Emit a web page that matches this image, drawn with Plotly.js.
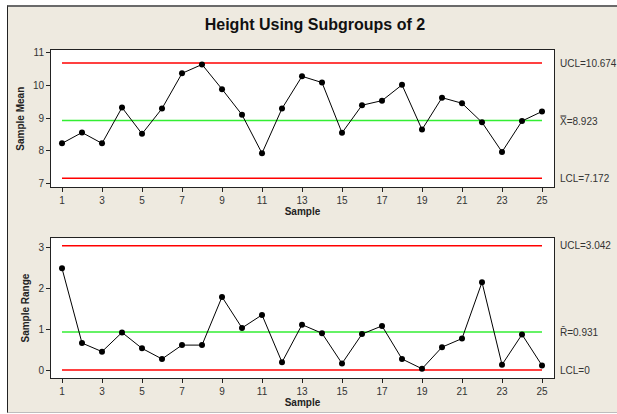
<!DOCTYPE html>
<html><head><meta charset="utf-8">
<script src="https://cdn.plot.ly/plotly-3.0.1.min.js"></script>
<style>
html,body{margin:0;padding:0;background:#fff;width:617px;height:414px;overflow:hidden;}
#frame{position:absolute;left:7px;top:5px;width:609px;height:405px;border-left:1px solid #222;border-top:2px solid #6a6a6a;border-bottom:1px solid #bdbdbd;background:#EEEAE0;}
#chart{width:609px;height:405px;}
</style></head>
<body>
<div id="frame"><div id="chart"></div></div>
<script>
const samples = [1,2,3,4,5,6,7,8,9,10,11,12,13,14,15,16,17,18,19,20,21,22,23,24,25];
const sampleMeans = [8.23,8.56,8.23,9.32,8.52,9.29,10.36,10.63,9.88,9.10,7.93,9.29,10.27,10.08,8.55,9.39,9.53,10.01,8.65,9.62,9.45,8.87,7.97,8.91,9.20];
const sampleRanges = [2.49,0.66,0.45,0.92,0.53,0.27,0.61,0.61,1.79,1.03,1.35,0.19,1.11,0.90,0.16,0.88,1.08,0.27,0.03,0.56,0.77,2.15,0.13,0.87,0.11];
const meanLimits = {ucl:10.674, center:8.923, lcl:7.172};
const rangeLimits = {ucl:3.042, center:0.931, lcl:0};
const xTickVals = [1,3,5,7,9,11,13,15,17,19,21,23,25];

const xEnds = [samples[0], samples[samples.length-1]];
const RED = '#FF0000', GREEN = '#33EE33';
function hline(val, color, xa, ya){
  return {x:xEnds, y:[val,val], mode:'lines', line:{color:color,width:1.5}, xaxis:xa, yaxis:ya, hoverinfo:'skip', showlegend:false};
}
const traces = [
  hline(meanLimits.ucl, RED, 'x','y'),
  hline(meanLimits.center, GREEN, 'x','y'),
  hline(meanLimits.lcl, RED, 'x','y'),
  {x:samples, y:sampleMeans, mode:'lines+markers', line:{color:'#000',width:1}, marker:{color:'#000',size:6}, xaxis:'x', yaxis:'y', showlegend:false},
  hline(rangeLimits.ucl, RED, 'x2','y2'),
  hline(rangeLimits.center, GREEN, 'x2','y2'),
  hline(rangeLimits.lcl, RED, 'x2','y2'),
  {x:samples, y:sampleRanges, mode:'lines+markers', line:{color:'#000',width:1}, marker:{color:'#000',size:6}, xaxis:'x2', yaxis:'y2', showlegend:false}
];
const FONT = 'Liberation Sans, Arial, sans-serif';
const tickFont = {family:FONT, size:10, color:'#333'};
const titleFont = {family:FONT, size:10, color:'#222', weight:'bold'};
function xAxis(anchor){
  return {anchor:anchor, range:[0.45,25.6], tickmode:'array', tickvals:xTickVals, ticks:'outside', ticklen:4, tickcolor:'#222',
    showgrid:false, zeroline:false, showline:true, linecolor:'#222', linewidth:1, mirror:true, tickfont:tickFont,
    title:{text:'Sample', font:titleFont, standoff:2}};
}
function yAxis(anchor, range, dom, tv, title){
  return {anchor:anchor, domain:dom, range:range, tickmode:'array', tickvals:tv, ticks:'outside', ticklen:4, tickcolor:'#222',
    showgrid:false, zeroline:false, showline:true, linecolor:'#222', linewidth:1, mirror:true, tickfont:tickFont,
    title:{text:title, font:titleFont, standoff:6}};
}
function lab(text, val, ya){
  return {xref: ya==='y'?'x domain':'x2 domain', x:1, xanchor:'left', xshift:4, yref:ya, y:val, yanchor:'middle', text:text, showarrow:false, font:{family:FONT,size:10,color:'#333'}};
}
const layout = {
  width:609, height:405,
  paper_bgcolor:'#EEEAE0', plot_bgcolor:'#FFFFFF',
  margin:{l:43, r:63, t:43, b:34},
  title:{text:'Height Using Subgroups of 2', font:{family:FONT,size:16,color:'#111',weight:'bold'}, xref:'container', x:0.504, xanchor:'center', yref:'container', y:0.956, yanchor:'middle'},
  xaxis:xAxis('y'),
  yaxis:yAxis('x',[6.89,11.07],[0.581,1],[7,8,9,10,11],'Sample Mean'),
  xaxis2:xAxis('y2'),
  yaxis2:yAxis('x2',[-0.196,3.23],[0,0.4264],[0,1,2,3],'Sample Range'),
  annotations:[
    lab('UCL=' + meanLimits.ucl, meanLimits.ucl, 'y'),
    lab('X\u033F=' + meanLimits.center, meanLimits.center, 'y'),
    lab('LCL=' + meanLimits.lcl, meanLimits.lcl, 'y'),
    lab('UCL=' + rangeLimits.ucl, rangeLimits.ucl, 'y2'),
    lab('R\u0304=' + rangeLimits.center, rangeLimits.center, 'y2'),
    lab('LCL=' + rangeLimits.lcl, rangeLimits.lcl, 'y2')
  ],
  showlegend:false
};
Plotly.newPlot('chart', traces, layout, {displayModeBar:false, staticPlot:true});
</script>
</body></html>
